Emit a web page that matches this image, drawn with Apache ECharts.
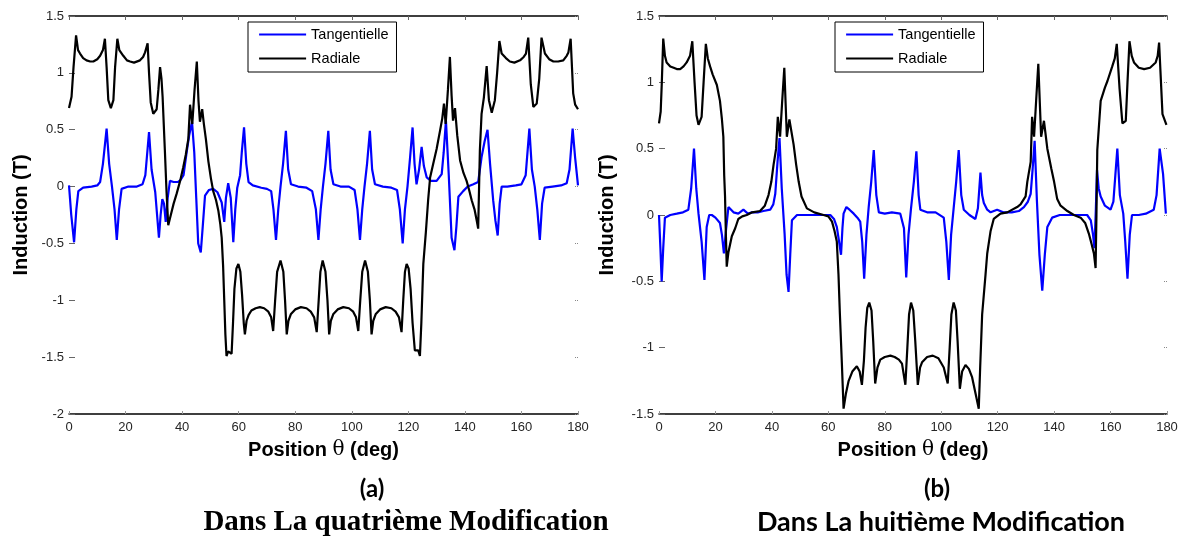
<!DOCTYPE html>
<html>
<head>
<meta charset="utf-8">
<script src="https://cdn.jsdelivr.net/npm/echarts@6/dist/echarts.min.js"></script>
<style>
html,body{margin:0;padding:0;background:#fff;}
#chart{width:1186px;height:538px;}
</style>
</head>
<body>
<div id="chart"></div>
<script>
// ---------- data ----------
const xTicks = { min: 0, max: 180, interval: 20 };
const yTicksA = { min: -2, max: 1.5, interval: 0.5 };
const yTicksB = { min: -1.5, max: 1.5, interval: 0.5 };
const seriesNames = ['Tangentielle', 'Radiale'];
const xTitle = 'Position {t|θ} (deg)';
const yTitle = 'Induction (T)';
const captionA = '(a)';
const titleA = 'Dans La quatrième Modification';
const captionB = '(b)';
const titleB = 'Dans La huitième Modification';

// Panel (a) – tangential component [theta deg, T]
const tangA = [
[0,0.01],[0.8,-0.25],[1.8,-0.49],[2.6,-0.2],[3.3,-0.04],[5,-0.01],[8,0],[10,0.01],[11,0.04],[12,0.2],
[13.3,0.51],[14.2,0.2],[15.2,0],[16.1,-0.2],[16.9,-0.47],[17.7,-0.2],[18.6,-0.02],[21,0],[24,0],[26,0.02],
[27,0.1],[28.3,0.48],[29.2,0.15],[30.5,-0.05],[31.8,-0.45],[32.4,-0.25],[33,-0.11],[33.6,-0.15],[34.2,-0.31],[34.9,-0.1],
[35.7,0.05],[37,0.04],[38.5,0.04],[39.5,0.06],[40.5,0.1],[41.6,0.3],[42.5,0.45],[43.5,0.57],[44.3,0.3],[45,-0.1],
[45.7,-0.5],[46.6,-0.58],[47.3,-0.35],[48.1,-0.08],[49.5,-0.03],[51,-0.02],[52.5,-0.05],[54,-0.14],[54.9,-0.31],[55.5,-0.1],
[56.3,0.03],[57.2,-0.1],[58.1,-0.49],[58.8,-0.2],[59.5,-0.01],[60.5,0.1],[61.1,0.3],[61.9,0.52],[62.7,0.2],[63.5,0.04],
[65,0.01],[68,-0.01],[70,-0.02],[71.5,-0.04],[72.3,-0.2],[73.2,-0.47],[74,-0.2],[74.8,0],[75.7,0.2],[76.7,0.49],
[77.5,0.15],[78.5,0.02],[81,0],[84,-0.01],[86,-0.04],[87.3,-0.2],[88.2,-0.47],[89,-0.2],[89.8,0],[90.7,0.2],
[91.7,0.49],[92.5,0.15],[93.5,0.02],[96,0],[99,0],[101,-0.03],[102,-0.2],[102.9,-0.47],[103.7,-0.2],[104.5,0],
[105.4,0.2],[106.4,0.49],[107.2,0.15],[108.2,0.02],[111,0],[114,-0.01],[116,-0.03],[117,-0.2],[118,-0.5],[118.8,-0.2],
[119.7,0],[120.6,0.25],[121.5,0.52],[122.2,0.2],[122.9,0.02],[123.8,0.15],[124.7,0.35],[125.5,0.18],[126.5,0.08],[128,0.05],
[130,0.05],[131.8,0.11],[132.5,0.3],[133.3,0.58],[134.3,0.1],[135.3,-0.45],[136.3,-0.56],[137,-0.35],[137.7,-0.09],[139.4,-0.04],
[141,0],[143,0.02],[144.7,0.04],[145.9,0.26],[147,0.4],[148,0.5],[148.9,0.2],[150,-0.12],[150.8,-0.3],[151.6,-0.43],
[152.3,-0.15],[153,0],[155,0],[158,0.01],[160,0.02],[161.5,0.1],[162.8,0.51],[163.7,0.15],[164.7,0],[165.6,-0.2],
[166.5,-0.47],[167.3,-0.15],[168.2,-0.01],[171,0],[174,0.01],[176,0.03],[177,0.15],[178.1,0.51],[179,0.25],[180,0.01]
];

// Panel (a) – radial component
const radA = [
[0,0.69],[0.9,0.79],[1.6,1.05],[2.5,1.33],[3.2,1.2],[3.9,1.17],[5,1.13],[6.2,1.11],[7.5,1.1],[8.6,1.1],
[10,1.12],[11,1.15],[12,1.2],[12.7,1.3],[13.3,1.05],[13.9,0.76],[14.8,0.69],[15.7,0.76],[16.3,1.05],[17.1,1.3],
[17.8,1.2],[19.2,1.15],[20.5,1.11],[21.6,1.1],[23,1.09],[25.1,1.11],[26.2,1.14],[26.9,1.18],[27.8,1.26],[28.3,1.0],
[28.9,0.74],[29.8,0.64],[31,0.68],[31.6,0.85],[32.2,1.05],[32.7,0.95],[33.1,0.79],[33.9,0.32],[34.5,-0.05],[35.1,-0.34],
[36,-0.25],[37,-0.15],[38.1,-0.06],[39.3,0.05],[40.4,0.17],[41.3,0.28],[42.2,0.42],[42.8,0.72],[43.6,0.55],[44.4,0.85],
[45.2,1.1],[45.8,0.75],[46.3,0.57],[47.1,0.68],[47.7,0.55],[48.4,0.42],[49.3,0.22],[50.2,0.07],[51,-0.04],[52,-0.12],
[52.8,-0.21],[53.5,-0.33],[54,-0.45],[54.5,-0.7],[54.9,-1.0],[55.3,-1.3],[55.7,-1.49],[56.3,-1.45],[56.9,-1.44],[57.5,-1.47],
[58,-1.2],[58.5,-0.9],[59.2,-0.72],[59.9,-0.68],[60.6,-0.75],[61.2,-0.95],[61.8,-1.2],[62.2,-1.3],[62.8,-1.18],[63.5,-1.13],
[64.5,-1.09],[66,-1.07],[67.5,-1.06],[69,-1.07],[70.5,-1.1],[71.5,-1.15],[72.2,-1.27],[72.9,-1.0],[73.6,-0.75],[74.8,-0.65],
[75.8,-0.75],[76.4,-1.0],[77,-1.3],[77.6,-1.18],[78.5,-1.12],[80,-1.08],[82,-1.06],[84,-1.07],[85.5,-1.1],[86.7,-1.15],
[87.6,-1.28],[88.3,-1.0],[88.9,-0.75],[89.7,-0.65],[90.7,-0.75],[91.4,-1.0],[92,-1.3],[92.6,-1.18],[93.5,-1.12],[95,-1.08],
[97,-1.06],[99,-1.07],[100.5,-1.1],[101.5,-1.15],[102.3,-1.27],[103,-1.0],[103.7,-0.75],[104.7,-0.65],[105.7,-0.75],[106.4,-1.0],
[107,-1.3],[107.6,-1.18],[108.5,-1.12],[110,-1.08],[112,-1.06],[114,-1.07],[115.5,-1.1],[116.7,-1.15],[117.6,-1.28],[118.2,-1.0],
[118.8,-0.75],[119.4,-0.68],[120.1,-0.72],[120.8,-0.9],[121.5,-1.2],[122.3,-1.44],[123,-1.45],[123.5,-1.44],[124.1,-1.49],[124.6,-1.2],
[125,-0.9],[125.3,-0.68],[126.2,-0.4],[127,-0.12],[127.7,0.08],[128.8,0.2],[130,0.33],[131.2,0.49],[132,0.6],[132.6,0.73],
[133.2,0.55],[134,0.85],[134.7,1.14],[135.3,0.8],[135.8,0.58],[136.5,0.69],[137.3,0.45],[138.3,0.23],[139.5,0.12],[140.6,0.05],
[141.5,-0.03],[142.4,-0.12],[143.4,-0.2],[144.2,-0.3],[144.7,-0.37],[145.3,0.32],[145.9,0.64],[146.7,0.78],[147.7,1.06],[148.5,0.76],
[149.5,0.65],[150.6,0.76],[151.4,1.0],[152.2,1.28],[153,1.17],[154.5,1.13],[155.9,1.1],[157.5,1.09],[159.5,1.11],[160.8,1.14],
[161.6,1.17],[162.4,1.31],[163.3,0.9],[164.2,0.7],[165.4,0.73],[166.3,0.95],[167.1,1.31],[168.3,1.17],[169.8,1.12],[171.3,1.1],
[173,1.1],[174.8,1.11],[176,1.15],[176.6,1.18],[177.4,1.3],[178.3,0.82],[179,0.72],[180,0.68]
];

// Panel (b) – tangential component
const tangB = [
[0,0],[0.5,-0.25],[0.95,-0.5],[1.5,-0.25],[2.1,-0.02],[4,0],[6.3,0.01],[8.5,0.02],[10.4,0.04],[11.4,0.2],
[12.4,0.5],[13.2,0.2],[14,0.01],[15.1,-0.2],[16.1,-0.49],[16.9,-0.09],[17.8,0],[18.7,0],[20,-0.02],[21.6,-0.06],
[22.3,-0.15],[23,-0.29],[23.8,-0.1],[24.6,0.06],[26.4,0.02],[28.1,0.01],[29.9,0.04],[31.5,0.01],[33,0.02],[35,0.02],
[37,0.03],[39.4,0.04],[40.5,0.08],[41.2,0.16],[42,0.4],[42.7,0.58],[43.5,0.2],[44.5,-0.14],[45.2,-0.45],[45.9,-0.58],
[46.5,-0.3],[47.1,-0.04],[48.9,0],[52,0],[55,0],[58,0],[60.7,0],[62,-0.03],[63,-0.09],[63.8,-0.2],
[64.5,-0.3],[65,-0.1],[65.4,0.01],[66.4,0.06],[67.5,0.04],[69,0.01],[70.3,-0.02],[71.3,-0.05],[72,-0.2],[72.7,-0.48],
[73.5,-0.15],[74.3,0.06],[75.2,0.25],[76.1,0.49],[77,0.15],[77.9,0.02],[80,0.01],[82.5,0.02],[85.5,0.01],[86.8,-0.1],
[87.6,-0.47],[88.4,-0.15],[89.3,0.05],[90.3,0.25],[91.2,0.48],[92,0.15],[92.6,0.04],[95,0.02],[98,0.02],[100.9,-0.02],
[101.8,-0.2],[102.7,-0.49],[103.5,-0.15],[104.4,0.05],[105.3,0.25],[106.2,0.49],[107.1,0.15],[108,0.04],[110,0],[112.1,-0.03],
[113,0.05],[113.9,0.32],[114.5,0.15],[115.1,0.09],[116.3,0.04],[117.5,0.02],[119.8,0.04],[122,0.02],[125,0.02],[127.5,0.03],
[129.3,0.06],[130.7,0.1],[131.7,0.16],[132.4,0.35],[133.1,0.56],[133.9,0.11],[134.8,-0.3],[135.8,-0.57],[136.7,-0.3],[137.6,-0.09],
[139.3,-0.02],[142,0],[145,0],[148,0],[150,0],[151.7,0],[153,-0.04],[153.8,-0.15],[154.3,-0.25],[154.8,0.05],
[155.2,0.34],[155.8,0.2],[156.5,0.14],[158,0.07],[160,0.04],[161,0.1],[161.7,0.3],[162.4,0.5],[163.3,0.15],[164.5,0.01],
[165.2,-0.2],[166,-0.48],[166.8,-0.15],[167.6,0],[170,0],[172.5,0.01],[175.3,0.04],[176.3,0.15],[177.4,0.5],[178.6,0.31],
[179.6,0.01]
];

// Panel (b) – radial component
const radB = [
[0,0.69],[0.6,0.78],[1,1.0],[1.5,1.33],[2.1,1.2],[2.7,1.15],[4,1.12],[5.2,1.11],[6.3,1.1],[7.5,1.1],
[8.7,1.12],[9.8,1.15],[11,1.2],[11.8,1.31],[12.6,1.0],[13.3,0.75],[14,0.68],[15.1,0.74],[15.8,1.0],[16.6,1.29],
[17.3,1.18],[18.1,1.12],[19,1.06],[20.5,0.98],[21.6,0.86],[22.3,0.72],[22.8,0.59],[23.1,0.3],[23.4,0.14],[23.7,-0.15],
[24,-0.39],[24.6,-0.28],[25.2,-0.22],[25.8,-0.16],[27,-0.1],[28.1,-0.03],[29.5,-0.01],[31.1,0],[33,0.02],[35.8,0.03],
[37.5,0.07],[38.8,0.15],[39.8,0.25],[40.6,0.38],[41.5,0.5],[42.1,0.74],[42.9,0.59],[43.6,0.84],[44.4,1.11],[45.3,0.59],
[46.2,0.72],[47.7,0.53],[48.6,0.38],[49.5,0.25],[50.5,0.14],[52.4,0.05],[55,0.02],[58.3,0],[60,-0.01],[61.3,-0.05],
[62.2,-0.12],[63,-0.2],[63.6,-0.45],[64.1,-0.75],[64.8,-1.12],[65.4,-1.46],[66.2,-1.35],[67.2,-1.25],[68.5,-1.18],[70.1,-1.14],
[71.1,-1.18],[71.9,-1.28],[72.6,-1.1],[73.2,-0.85],[73.8,-0.7],[74.5,-0.66],[75.3,-0.72],[75.9,-0.95],[76.6,-1.27],[77.4,-1.15],
[78.4,-1.09],[80,-1.07],[82,-1.06],[83.5,-1.07],[85,-1.09],[86.1,-1.12],[87.3,-1.28],[88,-1.0],[88.6,-0.75],[89.3,-0.66],
[90.1,-0.72],[90.8,-0.95],[91.7,-1.28],[92.5,-1.15],[93.2,-1.11],[95,-1.07],[97,-1.06],[99,-1.08],[100.9,-1.15],[102.3,-1.27],
[103,-1.0],[103.6,-0.75],[104.4,-0.66],[105.2,-0.72],[105.8,-0.95],[106.6,-1.31],[107.4,-1.18],[108.6,-1.13],[109.8,-1.16],[110.9,-1.22],
[112.2,-1.35],[113.3,-1.46],[113.8,-1.15],[114.5,-0.75],[115.7,-0.45],[116.3,-0.29],[117.5,-0.12],[118.6,-0.03],[121,0.01],[123.4,0.02],
[126.9,0.06],[128.1,0.08],[129.9,0.14],[130.5,0.25],[131.7,0.4],[132.2,0.74],[132.9,0.59],[133.6,0.85],[134.4,1.14],[135.4,0.59],
[136.4,0.71],[137.6,0.5],[139,0.35],[140,0.25],[141.1,0.12],[142.3,0.07],[144.7,0.03],[147,0],[149.4,-0.02],[151,-0.06],
[152.3,-0.14],[153.3,-0.22],[154.1,-0.29],[154.7,-0.4],[155,0],[155.3,0.49],[156.5,0.86],[158,0.96],[158.9,1.01],[160.6,1.12],
[161.5,1.18],[162.2,1.29],[163.2,0.95],[164.2,0.69],[165.4,0.71],[166,1.0],[166.7,1.31],[167.5,1.2],[168.3,1.15],[170,1.11],
[171.9,1.1],[174,1.11],[176,1.15],[176.7,1.2],[177.2,1.3],[178.4,0.76],[179.8,0.68]
];

// ---------- chart ----------
const chart = echarts.init(document.getElementById('chart'), null, { renderer: 'canvas' });
const SANS = 'Liberation Sans, Arial, sans-serif';

function bottomX(gi) {
  return {
    gridIndex: gi, type: 'value', position: 'bottom',
    min: xTicks.min, max: xTicks.max, interval: xTicks.interval,
    axisLine: { show: true, onZero: false, lineStyle: { color: '#000', width: 1.5 } },
    axisTick: { show: true, inside: true, length: 3, lineStyle: { color: '#999', width: 1 } },
    axisLabel: { show: true, margin: 7, fontSize: 13, color: '#262626', fontFamily: SANS },
    splitLine: { show: false },
    name: xTitle, nameLocation: 'middle', nameGap: 26,
    nameTextStyle: { fontSize: 20, fontWeight: 'bold', color: '#000', fontFamily: SANS,
      rich: { t: { fontSize: 20, fontWeight: 'normal', fontFamily: 'DejaVu Serif, Liberation Serif, serif', color: '#000' } } }
  };
}
function topX(gi) {
  return {
    gridIndex: gi, type: 'value', position: 'top',
    min: xTicks.min, max: xTicks.max, interval: xTicks.interval,
    axisLine: { show: true, onZero: false, lineStyle: { color: '#000', width: 1.5 } },
    axisTick: { show: true, inside: true, length: 4, lineStyle: { color: '#666', width: 1 } },
    axisLabel: { show: false }, splitLine: { show: false }
  };
}
function leftY(gi, t, gap) {
  return {
    gridIndex: gi, type: 'value', position: 'left',
    min: t.min, max: t.max, interval: t.interval,
    axisLine: { show: false, onZero: false },
    axisTick: { show: true, inside: true, length: 6, lineStyle: { color: '#666', width: 1 } },
    axisLabel: { show: true, margin: 5, fontSize: 13, color: '#262626', fontFamily: SANS },
    splitLine: { show: false },
    name: yTitle, nameLocation: 'middle', nameGap: gap,
    nameTextStyle: { fontSize: 20, fontWeight: 'bold', color: '#000', fontFamily: SANS }
  };
}
function rightY(gi, t) {
  return {
    gridIndex: gi, type: 'value', position: 'right',
    min: t.min, max: t.max, interval: t.interval,
    axisLine: { show: false, onZero: false },
    axisTick: { show: true, inside: true, length: 4, lineStyle: { color: '#888', width: 1, type: 'dotted' } },
    axisLabel: { show: false }, splitLine: { show: false }
  };
}
function legendAt(left) {
  return {
    data: seriesNames, orient: 'vertical', left: left, top: 22,
    padding: [5, 8, 6, 10], itemGap: 9, itemWidth: 47, itemHeight: 14,
    borderColor: '#000', borderWidth: 1, backgroundColor: '#fff', borderRadius: 0,
    itemStyle: { opacity: 0 },
    lineStyle: { width: 2.2 },
    textStyle: { fontSize: 14.5, color: '#000', fontFamily: SANS },
    selectedMode: false
  };
}
function line(name, color, xi, yi, data) {
  return {
    name: name, type: 'line', xAxisIndex: xi, yAxisIndex: yi, data: data,
    symbol: 'none', smooth: false, animation: false,
    lineStyle: { color: color, width: 2.2 }, itemStyle: { color: color }
  };
}

const option = {
  backgroundColor: '#fff',
  animation: false,
  grid: [
    { left: 69, top: 16, width: 509, height: 398, containLabel: false },
    { left: 659, top: 16, width: 508, height: 398, containLabel: false }
  ],
  xAxis: [bottomX(0), topX(0), bottomX(1), topX(1)],
  yAxis: [leftY(0, yTicksA, 38), rightY(0, yTicksA), leftY(1, yTicksB, 42), rightY(1, yTicksB)],
  legend: [legendAt(248), legendAt(835)],
  series: [
    line(seriesNames[0], '#0000ff', 0, 0, tangA),
    line(seriesNames[1], '#000000', 0, 0, radA),
    line(seriesNames[0], '#0000ff', 2, 2, tangB),
    line(seriesNames[1], '#000000', 2, 2, radB)
  ],
  graphic: [
    { type: 'text', x: 372, y: 489, style: { text: captionA, fill: '#000', font: 'bold 24px Lato, sans-serif', align: 'center', verticalAlign: 'middle' } },
    { type: 'text', x: 406, y: 523, style: { text: titleA, fill: '#000', font: 'bold 29px "Liberation Serif", serif', align: 'center', verticalAlign: 'middle' } },
    { type: 'text', x: 937, y: 489, style: { text: captionB, fill: '#000', font: 'bold 24px Lato, sans-serif', align: 'center', verticalAlign: 'middle' } },
    { type: 'text', x: 941, y: 522, style: { text: titleB, fill: '#000', font: 'bold 27px Lato, sans-serif', align: 'center', verticalAlign: 'middle' } }
  ]
};
chart.setOption(option);
</script>
</body>
</html>
